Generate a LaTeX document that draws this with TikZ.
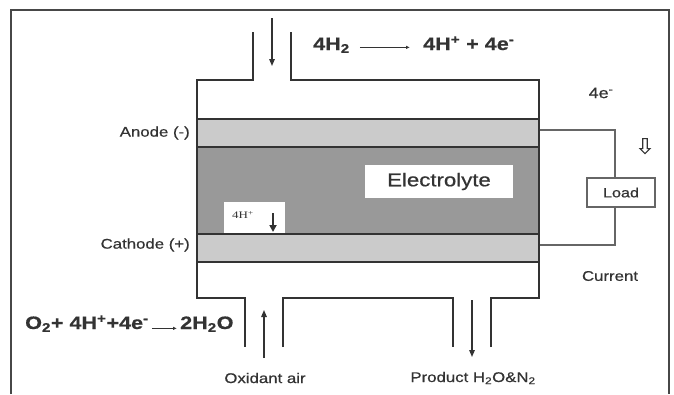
\documentclass[tikz,border=0pt]{standalone}
\usepackage{fontspec}
\setmainfont[FakeStretch=1.2, FakeBold=0.6]{Liberation Sans}
\newfontfamily\ionfont[FakeStretch=1.3]{Liberation Serif}
\usetikzlibrary{arrows.meta, shapes.arrows}
\definecolor{ink}{HTML}{333333}
\definecolor{electrode}{HTML}{CBCBCB}
\definecolor{electrolyte}{HTML}{999999}

\begin{document}
\begin{tikzpicture}[x=1pt, y=-1pt,
  every node/.style={text=ink, inner sep=0pt},
  wall/.style={draw=ink, line width=1.8pt},
  wire/.style={draw=ink!75, line width=1.3pt},
  band/.style={draw=ink, line width=1.2pt, minimum width=342pt},
  flow/.style={draw=ink, line width=1.4pt, -{Triangle[length=7pt, width=5.5pt]}},
  eqarrow/.style={draw=ink, line width=1pt, -{Latex[length=4pt, width=3.5pt]}},
  whitebox/.style={fill=white},
  sidetext/.style={font=\fontsize{14}{16}\selectfont},
  reaction/.style={font=\fontsize{18}{20}\selectfont\bfseries}
]
  \useasboundingbox (0,0) rectangle (674,394);
  \draw[draw=ink!90, line width=1.5pt] (11,394) -- (11,10) -- (669,10) -- (669,394);

  % cell layers
  \node[band, fill=electrolyte, minimum height=87pt] (electrolyte) at (368,190.5) {};
  \node[band, fill=electrode, minimum height=28pt] (anode) at (368,133) {};
  \node[band, fill=electrode, minimum height=28pt] (cathode) at (368,248) {};

  % housing with gas ports
  \draw[wall] (253,32) -- (253,80) -- (197,80) -- (197,298) -- (245,298) -- (245,347);
  \draw[wall] (283,347) -- (283,298) -- (453,298) -- (453,347);
  \draw[wall] (491,347) -- (491,298) -- (539,298) -- (539,80) -- (291,80) -- (291,32);

  \node[whitebox, minimum width=148pt, minimum height=33pt,
        font=\fontsize{18.5}{20}\selectfont] (elbox) at (439,181.5) {Electrolyte};
  \node[whitebox, minimum width=61pt, minimum height=31pt] (ionbox) at (254.5,217.5) {};
  \node[font=\ionfont\fontsize{10}{12}\selectfont] (ion) at (243,215) {4H\textsuperscript{+}};

  % flows
  \coordinate (h2in) at (272,18);
  \coordinate (h2end) at (272,66);
  \coordinate (airin) at (264,358);
  \coordinate (airend) at (264,310);
  \coordinate (prodin) at (472,300);
  \coordinate (prodend) at (472,357);
  \coordinate (iontop) at (273,213);
  \coordinate (ionend) at (273,232);
  \draw[flow] (h2in) -- (h2end);
  \draw[flow] (airin) -- (airend);
  \draw[flow] (prodin) -- (prodend);
  \draw[draw=ink, line width=2.4pt, -{Triangle[length=7pt, width=7pt]}] (iontop) -- (ionend);

  % external circuit
  \node[draw=ink!75, line width=1.3pt, minimum width=68pt, minimum height=29pt,
        font=\fontsize{13.5}{15}\selectfont] (load) at (621,192.5) {Load};
  \draw[wire] ([yshift=3pt]anode.east) -| ([xshift=-6pt]load.north);
  \draw[wire] ([xshift=-6pt]load.south) |- ([yshift=3pt]cathode.east);
  \node[single arrow, draw=ink, line width=1.1pt, rotate=-90, minimum height=15pt,
        minimum width=10pt, single arrow head extend=2.5pt, inner sep=1.5pt] (edir) at (645,145) {};

  % labels
  \node[sidetext, anchor=east] (anodelbl) at (190,133) {Anode (-)};
  \node[sidetext, anchor=east] (cathodelbl) at (190,245) {Cathode (+)};
  \node[sidetext, font=\fontsize{15}{17}\selectfont] (electrons) at (601,93) {4e\textsuperscript{-}};
  \node[sidetext] (current) at (610,276) {Current};
  \node[sidetext] (oxidant) at (265,378) {Oxidant air};
  \node[sidetext] (product) at (473,378) {Product H\textsubscript{2}O\&N\textsubscript{2}};

  % reactions
  \node[reaction, anchor=base west] (h2) at (313,50) {4H\textsubscript{2}};
  \node[reaction, anchor=base west] (ions) at (423,50) {4H\textsuperscript{+} + 4e\textsuperscript{-}};
  \draw[eqarrow, shorten <=10pt, shorten >=13pt] (h2.mid east) -- (ions.mid west);
  \node[reaction, anchor=base west] (cathodein) at (25,329) {O\textsubscript{2}+ 4H\textsuperscript{+}+4e\textsuperscript{-}};
  \node[reaction, anchor=base west] (water) at (180,329) {2H\textsubscript{2}O};
  \draw[eqarrow, shorten <=3pt, shorten >=3pt] ([yshift=-2pt]cathodein.mid east) -- ([yshift=-2pt]water.mid west);
\end{tikzpicture}
\end{document}
